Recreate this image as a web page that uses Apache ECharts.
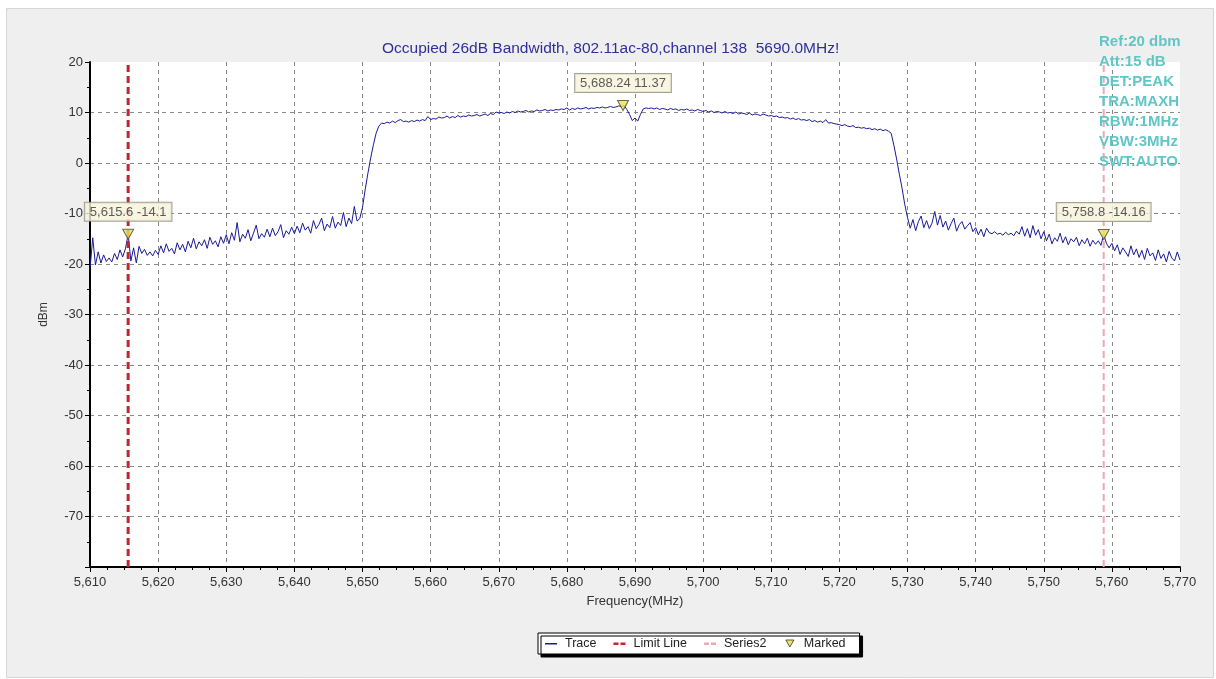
<!DOCTYPE html>
<html>
<head>
<meta charset="utf-8">
<script src="https://cdn.jsdelivr.net/npm/echarts@6/dist/echarts.min.js"></script>
<style>
html,body{margin:0;padding:0;background:#fff;}
#chart{width:1216px;height:679px;}
</style>
</head>
<body>
<div id="chart"></div>
<script>
// ---------- data ----------
const titleText = 'Occupied 26dB Bandwidth, 802.11ac-80,channel 138  5690.0MHz!';
const infoLines = ['Ref:20 dbm', 'Att:15 dB', 'DET:PEAK', 'TRA:MAXH', 'RBW:1MHz', 'VBW:3MHz', 'SWT:AUTO'];
const xMin = 5610, xMax = 5770, xInterval = 10;
const yMin = -80, yMax = 20, yInterval = 10;
const freqStart = 5610, freqStep = 0.4;
const traceLevels = [
  // 5610 - 5620
  -21.0, -14.8, -20.2, -17.6, -19.8, -18.2, -19.5, -18.8, -19.6, -17.9,
  -19.1, -17.2, -18.6, -17.0, -14.1, -19.4, -16.8, -19.8, -16.5, -17.9,
  -17.1, -18.3, -17.6, -18.4, -17.3,
  // 5620 - 5630
  -18.1, -16.4, -17.8, -16.0, -17.5, -16.9, -18.0, -15.8, -17.2, -16.1,
  -17.6, -15.5, -16.8, -14.9, -17.0, -15.6, -16.4, -15.2, -16.9, -14.7,
  -16.1, -15.4, -16.6, -14.6, -15.9,
  // 5630 - 5640
  -14.2, -16.0, -13.8, -15.3, -11.8, -15.6, -14.1, -14.9, -13.2, -15.4,
  -13.9, -12.3, -15.0, -14.0, -14.7, -13.1, -14.6, -12.9, -14.4, -13.6,
  -12.2, -14.8, -13.4, -14.1, -12.7,
  // 5640 - 5650
  -14.0, -12.5, -13.8, -11.9, -13.3, -12.6, -13.9, -11.4, -13.0, -12.2,
  -10.9, -13.4, -12.1, -12.8, -10.6, -12.9, -11.7, -12.4, -9.8, -12.6,
  -10.9, -12.0, -8.6, -11.5, -11.0,
  // 5650 - 5660
  -8.8, -5.2, -2.0, 1.0, 3.6, 5.9, 7.3, 7.9, 7.8, 8.1,
  7.9, 8.3, 8.0, 8.4, 8.6, 8.2, 8.3, 8.1, 8.4, 8.2,
  8.5, 8.3, 8.6, 8.4, 9.2,
  // 5660 - 5670
  8.6, 8.8, 8.7, 9.1, 8.9, 9.0, 9.3, 8.9, 9.2, 9.0,
  9.4, 9.1, 9.3, 9.2, 9.5, 9.3, 9.4, 9.6, 9.3, 9.5,
  9.7, 9.4, 9.8, 9.6, 10.1,
  // 5670 - 5680
  9.9, 10.0, 9.8, 10.1, 9.9, 10.2, 10.0, 10.3, 10.1, 10.2,
  10.4, 10.1, 10.3, 10.2, 10.5, 10.3, 10.4, 10.6, 10.3, 10.5,
  10.4, 10.6, 10.5, 10.7, 10.6,
  // 5680 - 5690
  10.9, 10.5, 10.8, 10.6, 10.9, 10.7, 10.8, 11.0, 10.7, 10.9,
  10.8, 11.0, 10.9, 11.1, 10.9, 11.0, 11.2, 11.0, 11.1, 11.3,
  11.2, 11.37, 10.6, 9.6, 8.4,
  // 5690 - 5700
  8.9, 8.3, 9.6, 10.7, 10.9, 10.8, 10.9, 10.7, 10.9, 10.6,
  10.8, 10.7, 10.5, 10.8, 10.6, 10.7, 10.4, 10.6, 10.5, 10.7,
  10.4, 10.5, 10.3, 10.6, 10.4,
  // 5700 - 5710
  10.2, 10.4, 10.1, 10.3, 10.0, 10.2, 10.1, 9.9, 10.2, 9.9,
  10.0, 9.8, 10.1, 9.7, 9.9, 9.8, 9.6, 9.9, 9.5, 9.7,
  9.6, 9.4, 9.7, 9.5, 9.3,
  // 5710 - 5720
  9.4, 9.2, 9.3, 9.0, 9.1, 8.9, 9.0, 8.7, 8.9, 8.6,
  8.8, 8.5, 8.6, 8.4, 8.6, 8.2, 8.4, 8.1, 8.3, 8.0,
  8.6, 7.9, 8.0, 7.8, 7.7,
  // 5720 - 5730
  7.6, 7.4, 7.6, 7.3, 7.2, 7.4, 7.0, 7.1, 6.9, 7.0,
  6.8, 6.9, 6.6, 6.8, 6.5, 6.7, 6.4, 6.6, 6.3, 5.9,
  3.5, 0.8, -2.2, -5.0, -8.2,
  // 5730 - 5740
  -10.8, -12.9, -11.2, -13.4, -11.6, -10.5, -12.8, -11.4, -13.0, -11.9,
  -9.6, -12.3, -10.4, -12.7, -11.5, -13.3, -12.0, -10.9, -13.5, -12.2,
  -11.6, -13.1, -12.4, -11.8, -13.6,
  // 5740 - 5750
  -12.8, -14.2, -13.1, -14.6, -12.9, -13.8, -14.0, -13.6, -14.1, -13.9,
  -14.3, -13.7, -14.2, -13.9, -14.4, -13.5, -14.1, -12.6, -14.5, -13.0,
  -14.8, -12.4, -14.3, -13.2, -15.0,
  // 5750 - 5760
  -13.6, -15.4, -14.1, -16.0, -14.8, -15.5, -13.9, -15.8, -14.6, -16.2,
  -15.0, -15.6, -14.7, -16.4, -15.2, -16.0, -14.9, -16.5, -15.3, -16.1,
  -15.4, -16.3, -14.16, -15.9, -16.8,
  // 5760 - 5770
  -15.9, -17.4, -16.2, -18.1, -16.8, -17.6, -18.5, -16.4, -18.2, -17.0,
  -18.7, -17.3, -19.1, -16.9, -18.4, -17.8, -19.3, -17.2, -18.9, -18.0,
  -19.6, -17.5, -18.8, -19.4, -17.6, -19.2
];
const markerFreqs = [5615.6, 5688.24, 5758.8];
const markerLevels = [-14.1, 11.37, -14.16];
const limitLineFreq = 5615.6;
const series2Freq = 5758.8;
const legendNames = ['Trace', 'Limit Line', 'Series2', 'Marked'];

// ---------- build ----------
const traceData = traceLevels.map((v, i) => [+(freqStart + i * freqStep).toFixed(2), v]);
const markerData = markerFreqs.map((f, i) => [f, markerLevels[i]]);
const fmtFreq = v => Number(v).toLocaleString('en-US', {maximumFractionDigits: 2});
const FONT = 'Liberation Sans, Arial, sans-serif';

// legend icons (bounding box 18 x 10 via the leading/trailing moves)
const ICON_SOLID = 'path://M0,0M3,4.5h12v1.5H3zM18,10';
const ICON_DASH = 'path://M0,0M3,4h5v2.5H3zM10,4h5v2.5H10zM18,10';
const ICON_TRI = 'path://M0,0M5,1.5L13,1.5L9,8.5ZM18,10';

const chart = echarts.init(document.getElementById('chart'), null, {renderer: 'canvas'});
const option = {
  backgroundColor: '#ffffff',
  animation: false,
  textStyle: {fontFamily: FONT},
  title: {
    text: titleText,
    left: 377, top: 36,
    textStyle: {fontFamily: FONT, fontSize: 15.5, fontWeight: 'normal', color: '#2f2f9c'}
  },
  graphic: [
    {type: 'rect', left: 6, top: 8, z: -10, silent: true,
     shape: {width: 1207, height: 669},
     style: {fill: '#efefef', stroke: '#d6d6d6', lineWidth: 1}},
    {type: 'text', left: 1099, top: 32, z: 100, silent: true,
     style: {text: infoLines.join('\n'), font: 'bold 15px ' + FONT, lineHeight: 20, fill: '#62c6c6'}}
  ],
  grid: {
    left: 90, top: 62, width: 1090, height: 505,
    show: true, backgroundColor: '#ffffff', borderWidth: 0
  },
  legend: {
    data: [
      {name: 'Trace', icon: ICON_SOLID},
      {name: 'Limit Line', icon: ICON_DASH},
      {name: 'Series2', icon: ICON_DASH},
      {name: 'Marked', icon: ICON_TRI, itemStyle: {color: '#e8e040', borderColor: '#333', borderWidth: 1}}
    ],
    left: 538, top: 633,
    padding: [4, 14, 4, 4],
    itemGap: 14, itemWidth: 18, itemHeight: 10,
    backgroundColor: '#ffffff', borderColor: '#000', borderWidth: 1,
    shadowColor: '#000', shadowOffsetX: 3, shadowOffsetY: 3, shadowBlur: 0,
    textStyle: {fontFamily: FONT, fontSize: 12.5, color: '#222'}
  },
  xAxis: {
    type: 'value', min: xMin, max: xMax, interval: xInterval,
    name: 'Frequency(MHz)', nameLocation: 'middle', nameGap: 28,
    nameTextStyle: {fontFamily: FONT, fontSize: 13, color: '#333'},
    axisLine: {show: true, onZero: false, lineStyle: {color: '#000', width: 2}},
    axisTick: {show: true, length: 5, lineStyle: {color: '#000'}},
    minorTick: {show: true, splitNumber: 4, length: 3, lineStyle: {color: '#000'}},
    axisLabel: {fontFamily: FONT, fontSize: 13, color: '#333', margin: 9, formatter: v => fmtFreq(v)},
    splitLine: {show: true, showMinLine: false, showMaxLine: false, lineStyle: {color: '#888', type: [4, 4], width: 1}}
  },
  yAxis: {
    type: 'value', min: yMin, max: yMax, interval: yInterval,
    name: 'dBm', nameLocation: 'middle', nameGap: 40, nameRotate: 90,
    nameTextStyle: {fontFamily: FONT, fontSize: 12, color: '#333'},
    axisLine: {show: true, onZero: false, lineStyle: {color: '#000', width: 2}},
    axisTick: {show: true, length: 5, lineStyle: {color: '#000'}},
    minorTick: {show: true, splitNumber: 2, length: 3, lineStyle: {color: '#000'}},
    axisLabel: {fontFamily: FONT, fontSize: 13, color: '#333', margin: 7, formatter: v => (v === yMin ? '' : String(v))},
    splitLine: {show: true, showMinLine: false, showMaxLine: false, lineStyle: {color: '#888', type: [4, 4], width: 1}}
  },
  series: [
    {
      name: 'Trace', type: 'line', data: traceData, symbol: 'none',
      lineStyle: {color: '#1a1a98', width: 1}, itemStyle: {color: '#1a1a98'}, z: 2
    },
    {
      name: 'Limit Line', type: 'line', symbol: 'none',
      data: [[limitLineFreq, yMin], [limitLineFreq, yMax]],
      lineStyle: {color: '#c42430', width: 3, type: [7, 4]}, itemStyle: {color: '#c42430'}, z: 3
    },
    {
      name: 'Series2', type: 'line', symbol: 'none',
      data: [[series2Freq, yMin], [series2Freq, yMax]],
      lineStyle: {color: '#f2a6b2', width: 2, type: [7, 4]}, itemStyle: {color: '#f2a6b2'}, z: 3
    },
    {
      name: 'Marked', type: 'scatter', data: markerData,
      symbol: 'triangle', symbolRotate: 180, symbolSize: [11, 10],
      itemStyle: {color: '#ece448', borderColor: '#444', borderWidth: 1},
      z: 5,
      label: {
        show: true, position: 'top', distance: 8,
        formatter: p => fmtFreq(p.value[0]) + ' ' + p.value[1],
        fontFamily: FONT, fontSize: 13, color: '#333',
        backgroundColor: '#f6f4dc', borderColor: '#8c8c7c', borderWidth: 1,
        padding: [3, 5, 2, 5]
      }
    }
  ]
};
chart.setOption(option);
</script>
</body>
</html>
